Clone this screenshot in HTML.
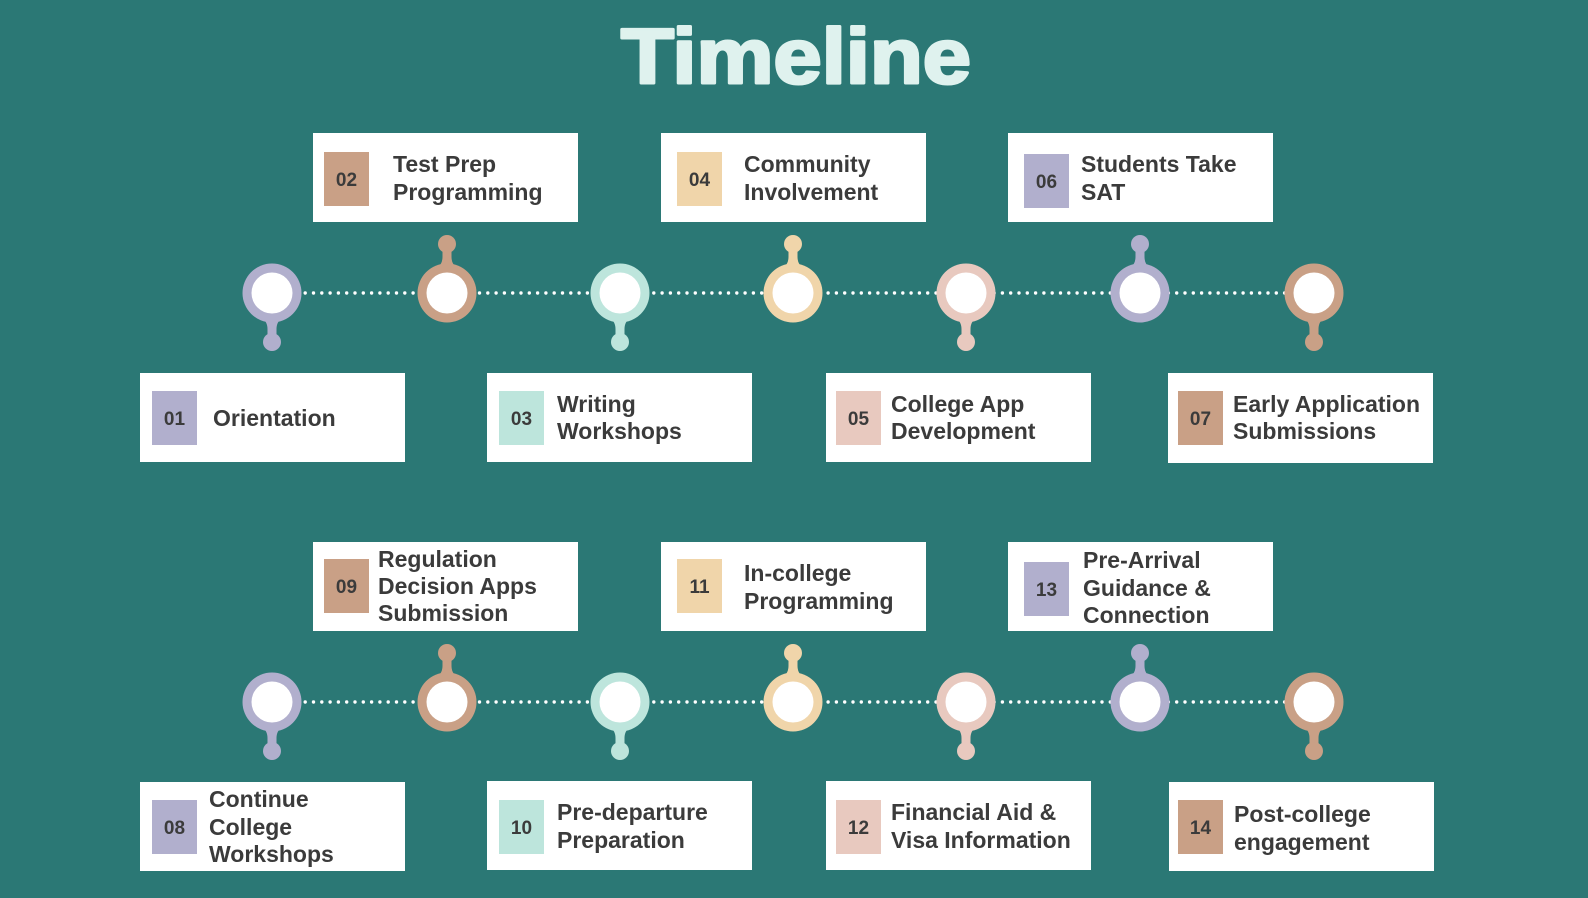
<!DOCTYPE html>
<html><head><meta charset="utf-8"><style>
html,body{margin:0;padding:0;background:#2b7875;}
svg{display:block}
.t{font-family:"Liberation Sans",sans-serif;font-weight:bold;font-size:23px;fill:#3b3b3b}
.n{font-family:"Liberation Sans",sans-serif;font-weight:bold;font-size:19px;fill:#3b3b3b;text-anchor:middle}
</style></head><body>
<svg width="1588" height="898" viewBox="0 0 1588 898" xmlns="http://www.w3.org/2000/svg">
<defs>
<g id="up">
<path d="M-14,-22 Q-4.5,-27 -4.5,-36 L-4.5,-45 L4.5,-45 L4.5,-36 Q4.5,-27 14,-22 Z"/>
<circle cx="0" cy="-49" r="9"/>
<circle cx="0" cy="0" r="29.5"/>
<circle cx="0" cy="0" r="20.5" fill="#fff"/>
</g>
<g id="dn" transform="scale(1,-1)"><use href="#up"/></g>
</defs>
<rect width="1588" height="898" fill="#2b7875"/>
<text x="796" y="83" text-anchor="middle" font-family="Liberation Sans,sans-serif" font-weight="bold" font-size="78" fill="#dff2ee" stroke="#dff2ee" stroke-width="3" stroke-linejoin="round" textLength="350" lengthAdjust="spacingAndGlyphs">Timeline</text>

<!-- dotted lines -->
<line x1="272" y1="293" x2="1314" y2="293" stroke="#fff" stroke-width="3.4" stroke-linecap="round" stroke-dasharray="0 8.3"/>
<line x1="272" y1="702" x2="1314" y2="702" stroke="#fff" stroke-width="3.4" stroke-linecap="round" stroke-dasharray="0 8.3"/>

<!-- row 1 pins -->
<use href="#dn" x="272" y="293" fill="#b1afcd"/>
<use href="#up" x="447" y="293" fill="#c9a086"/>
<use href="#dn" x="620" y="293" fill="#bde5dc"/>
<use href="#up" x="793" y="293" fill="#f0d5aa"/>
<use href="#dn" x="966" y="293" fill="#e8c9bf"/>
<use href="#up" x="1140" y="293" fill="#b1afcd"/>
<use href="#dn" x="1314" y="293" fill="#c9a086"/>
<!-- row 2 pins -->
<use href="#dn" x="272" y="702" fill="#b1afcd"/>
<use href="#up" x="447" y="702" fill="#c9a086"/>
<use href="#dn" x="620" y="702" fill="#bde5dc"/>
<use href="#up" x="793" y="702" fill="#f0d5aa"/>
<use href="#dn" x="966" y="702" fill="#e8c9bf"/>
<use href="#up" x="1140" y="702" fill="#b1afcd"/>
<use href="#dn" x="1314" y="702" fill="#c9a086"/>

<!-- Row 1 boxes -->
<g>
<rect x="313" y="133" width="265" height="89" fill="#fff"/>
<rect x="324" y="152" width="45" height="54" fill="#c9a086"/>
<text class="n" x="346.5" y="186">02</text>
<text class="t" x="393" y="172">Test Prep</text><text class="t" x="393" y="200">Programming</text>
</g>
<g>
<rect x="661" y="133" width="265" height="89" fill="#fff"/>
<rect x="677" y="152" width="45" height="54" fill="#f0d5aa"/>
<text class="n" x="699.5" y="186">04</text>
<text class="t" x="744" y="172">Community</text><text class="t" x="744" y="200">Involvement</text>
</g>
<g>
<rect x="1008" y="133" width="265" height="89" fill="#fff"/>
<rect x="1024" y="154" width="45" height="54" fill="#b1afcd"/>
<text class="n" x="1046.5" y="188">06</text>
<text class="t" x="1081" y="172">Students Take</text><text class="t" x="1081" y="200">SAT</text>
</g>
<g>
<rect x="140" y="373" width="265" height="89" fill="#fff"/>
<rect x="152" y="391" width="45" height="54" fill="#b1afcd"/>
<text class="n" x="174.5" y="425">01</text>
<text class="t" x="213" y="426">Orientation</text>
</g>
<g>
<rect x="487" y="373" width="265" height="89" fill="#fff"/>
<rect x="499" y="391" width="45" height="54" fill="#bde5dc"/>
<text class="n" x="521.5" y="425">03</text>
<text class="t" x="557" y="412">Writing</text><text class="t" x="557" y="439">Workshops</text>
</g>
<g>
<rect x="826" y="373" width="265" height="89" fill="#fff"/>
<rect x="836" y="391" width="45" height="54" fill="#e8c9bf"/>
<text class="n" x="858.5" y="425">05</text>
<text class="t" x="891" y="412">College App</text><text class="t" x="891" y="439">Development</text>
</g>
<g>
<rect x="1168" y="373" width="265" height="90" fill="#fff"/>
<rect x="1178" y="391" width="45" height="54" fill="#c9a086"/>
<text class="n" x="1200.5" y="425">07</text>
<text class="t" x="1233" y="412">Early Application</text><text class="t" x="1233" y="439">Submissions</text>
</g>

<!-- Row 2 boxes -->
<g>
<rect x="313" y="542" width="265" height="89" fill="#fff"/>
<rect x="324" y="559" width="45" height="54" fill="#c9a086"/>
<text class="n" x="346.5" y="593">09</text>
<text class="t" x="378" y="567">Regulation</text><text class="t" x="378" y="594">Decision Apps</text><text class="t" x="378" y="621">Submission</text>
</g>
<g>
<rect x="661" y="542" width="265" height="89" fill="#fff"/>
<rect x="677" y="559" width="45" height="54" fill="#f0d5aa"/>
<text class="n" x="699.5" y="593">11</text>
<text class="t" x="744" y="581">In-college</text><text class="t" x="744" y="609">Programming</text>
</g>
<g>
<rect x="1008" y="542" width="265" height="89" fill="#fff"/>
<rect x="1024" y="562" width="45" height="54" fill="#b1afcd"/>
<text class="n" x="1046.5" y="596">13</text>
<text class="t" x="1083" y="568">Pre-Arrival</text><text class="t" x="1083" y="596">Guidance &amp;</text><text class="t" x="1083" y="623">Connection</text>
</g>
<g>
<rect x="140" y="782" width="265" height="89" fill="#fff"/>
<rect x="152" y="800" width="45" height="54" fill="#b1afcd"/>
<text class="n" x="174.5" y="834">08</text>
<text class="t" x="209" y="807">Continue</text><text class="t" x="209" y="835">College</text><text class="t" x="209" y="862">Workshops</text>
</g>
<g>
<rect x="487" y="781" width="265" height="89" fill="#fff"/>
<rect x="499" y="800" width="45" height="54" fill="#bde5dc"/>
<text class="n" x="521.5" y="834">10</text>
<text class="t" x="557" y="820">Pre-departure</text><text class="t" x="557" y="848">Preparation</text>
</g>
<g>
<rect x="826" y="781" width="265" height="89" fill="#fff"/>
<rect x="836" y="800" width="45" height="54" fill="#e8c9bf"/>
<text class="n" x="858.5" y="834">12</text>
<text class="t" x="891" y="820">Financial Aid &amp;</text><text class="t" x="891" y="848">Visa Information</text>
</g>
<g>
<rect x="1169" y="782" width="265" height="89" fill="#fff"/>
<rect x="1178" y="800" width="45" height="54" fill="#c9a086"/>
<text class="n" x="1200.5" y="834">14</text>
<text class="t" x="1234" y="822">Post-college</text><text class="t" x="1234" y="850">engagement</text>
</g>
</svg>
</body></html>
